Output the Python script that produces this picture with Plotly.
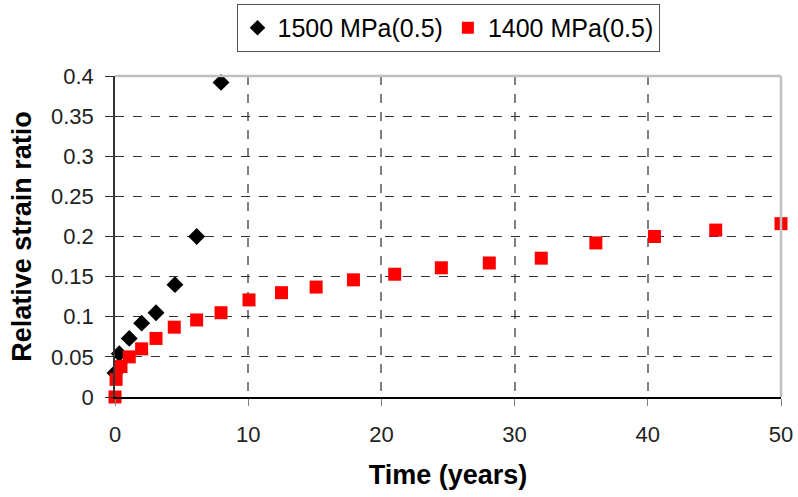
import plotly.graph_objects as go

t_1500 = [0, 0.32, 1.07, 2.0, 3.08, 4.5, 6.13, 7.96]
r_1500 = [0.03, 0.054, 0.073, 0.092, 0.105, 0.14, 0.2, 0.392]

t_1400 = [0, 0.08, 0.45, 1.07, 2.0, 3.08, 4.45, 6.13, 7.96, 10.06, 12.5, 15.1, 17.9,
          21.0, 24.5, 28.1, 32.0, 36.1, 40.5, 45.1, 50.0]
r_1400 = [0.0, 0.022, 0.038, 0.05, 0.06, 0.073, 0.087, 0.096, 0.105, 0.121, 0.13, 0.137,
          0.146, 0.153, 0.161, 0.167, 0.173, 0.192, 0.2, 0.208, 0.216]

x_ticks = [0, 10, 20, 30, 40, 50]
y_ticks = [0, 0.05, 0.1, 0.15, 0.2, 0.25, 0.3, 0.35, 0.4]
y_labels = ["0", "0.05", "0.1", "0.15", "0.2", "0.25", "0.3", "0.35", "0.4"]

font = "Liberation Sans, Arial, sans-serif"

fig = go.Figure()
fig.add_trace(go.Scatter(x=t_1500, y=r_1500, mode="markers", name="1500 MPa(0.5)",
                         marker=dict(symbol="diamond", size=13, color="black"),
                         cliponaxis=False))
fig.add_trace(go.Scatter(x=t_1400, y=r_1400, mode="markers", name="1400 MPa(0.5)",
                         marker=dict(symbol="square", size=13, color="#ff0000"),
                         cliponaxis=False))

fig.update_layout(
    width=798, height=497,
    margin=dict(l=115, r=17, t=76, b=100, autoexpand=False),
    paper_bgcolor="white", plot_bgcolor="white",
    font=dict(family=font, size=22, color="black"),
    showlegend=True,
    legend=dict(orientation="h", x=0.5, xanchor="center", y=0.992, yanchor="top",
                yref="container", bordercolor="#555555", borderwidth=1,
                font=dict(size=25), itemsizing="constant", tracegroupgap=0),
    xaxis=dict(range=[0, 50], tickvals=x_ticks, showgrid=True, gridcolor="#808080",
               griddash="dash", gridwidth=1.5, zeroline=False, showline=True,
               linecolor="black", linewidth=1.5, ticks="outside", ticklen=7,
               tickcolor="#808080", ticklabelstandoff=10,
               tickfont=dict(size=22, color="#222222"),
               title=dict(text="<b>Time (years)</b>", font=dict(size=27), standoff=19)),
    yaxis=dict(range=[0, 0.4], tickvals=y_ticks, ticktext=y_labels, showgrid=True,
               gridcolor="#333333", griddash="dash", gridwidth=1, zeroline=False,
               showline=True, linecolor="#333333", linewidth=1.5, ticks="outside",
               ticklen=8, tickcolor="#333333", ticklabelstandoff=7,
               tickfont=dict(size=22, color="#222222"),
               title=dict(text="<b>Relative strain ratio</b>", font=dict(size=27), standoff=12)),
    shapes=[
        dict(type="line", xref="x domain", yref="y domain", x0=0, x1=1, y0=1, y1=1,
             line=dict(color="#c0c0c0", width=2.5)),
        dict(type="line", xref="x domain", yref="y domain", x0=1, x1=1, y0=0, y1=1,
             line=dict(color="#c0c0c0", width=2.5)),
    ],
)

fig.write_html("out.html", config={"displayModeBar": False},
               post_script="document.body.style.margin='0';document.body.style.overflow='hidden';")
